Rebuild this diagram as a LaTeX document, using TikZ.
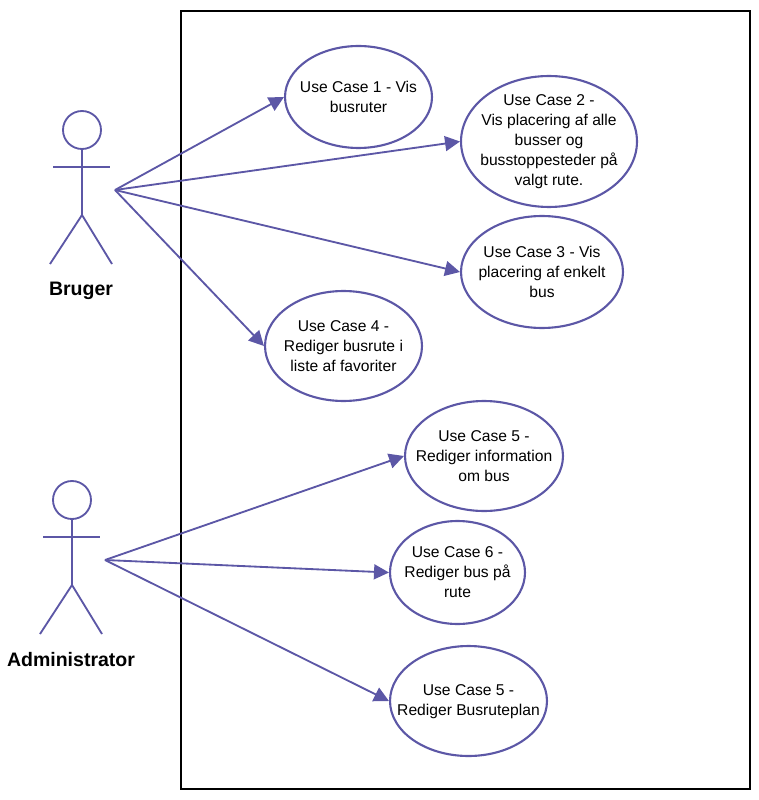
\documentclass[tikz,border=0pt]{standalone}
\usepackage{fontspec}
\setmainfont{Liberation Sans}
\usetikzlibrary{%
	arrows.meta,%
	shapes
}
\definecolor{umlviolet}{rgb}{0.36, 0.34, 0.65}
\tikzset{
	usecase/.style={draw=umlviolet,line width=1.2pt,ellipse,inner sep=0pt},
	usetext/.style={align=center,inner sep=0pt,font=\fontsize{8.9}{11.4}\selectfont,text=black},
	actorline/.style={umlviolet,line width=1.05pt},
	actorname/.style={font=\fontsize{11.1}{12}\selectfont\bfseries,text=black},
	assoc/.style={umlviolet,line width=1.05pt,-{Triangle[length=8.5pt,width=8.5pt]}}
}
\begin{document}
\begin{tikzpicture}[x=0.02cm,y=-0.02cm]
	\useasboundingbox (0,0) rectangle (759,800);
	% System boundary
	\draw[black,line width=1.25pt] (181,11) rectangle (750,789);

	% Use cases
	\node[usecase,minimum width=2.94cm,minimum height=2.04cm,label={[usetext]center:{Use Case 1 - Vis\\busruter}}] (uc1) at (358.5,97) {};
	\node[usecase,minimum width=3.52cm,minimum height=2.62cm,label={[usetext]center:{Use Case 2 -\\Vis placering af alle\\busser og\\busstoppesteder på\\valgt rute.}}] (uc2) at (549,141.5) {};
	\node[usecase,minimum width=3.24cm,minimum height=2.24cm,label={[usetext]center:{Use Case 3 - Vis\\placering af enkelt\\bus}}] (uc3) at (542,272) {};
	\node[usecase,minimum width=3.14cm,minimum height=2.2cm,label={[usetext]center:{Use Case 4 -\\Rediger busrute i\\liste af favoriter}}] (uc4) at (343.5,346) {};
	\node[usecase,minimum width=3.16cm,minimum height=2.2cm,label={[usetext]center:{Use Case 5 -\\Rediger information\\om bus}}] (uc5) at (484,456) {};
	\node[usecase,minimum width=2.7cm,minimum height=2.06cm,label={[usetext]center:{Use Case 6 -\\Rediger bus på\\rute}}] (uc6) at (457.5,572.5) {};
	\node[usecase,minimum width=3.14cm,minimum height=2.2cm,label={[usetext,yshift=-0.5pt]center:{Use Case 5 -\\Rediger Busruteplan}}] (uc7) at (468.5,701) {};

	% Actor Bruger
	\node[circle,draw=umlviolet,line width=1.05pt,minimum size=0.76cm,inner sep=0pt] (bruger) at (82,130) {};
	\draw[actorline] (bruger.south) -- (82,215);
	\draw[actorline] (53,167) -- (110,167);
	\draw[actorline] (50,264) -- (82,215) -- (112,264);
	\node[actorname] (brugername) at (81,290.5) {Bruger};
	\coordinate (brugerhand) at (115,190);

	% Actor Administrator
	\node[circle,draw=umlviolet,line width=1.05pt,minimum size=0.76cm,inner sep=0pt] (admin) at (72,500) {};
	\draw[actorline] (admin.south) -- (72,585);
	\draw[actorline] (43,537) -- (100,537);
	\draw[actorline] (40,634) -- (72,585) -- (102,634);
	\node[actorname] (adminname) at (71,660) {Administrator};
	\coordinate (adminhand) at (105,560);

	% Associations
	\draw[assoc] (brugerhand) -- (uc1.west);
	\draw[assoc] (brugerhand) -- (uc2.west);
	\draw[assoc] (brugerhand) -- (uc3.west);
	\draw[assoc] (brugerhand) -- (uc4.west);
	\draw[assoc] (adminhand) -- (uc5.west);
	\draw[assoc] (adminhand) -- (uc6.west);
	\draw[assoc] (adminhand) -- (uc7.west);
\end{tikzpicture}
\end{document}
